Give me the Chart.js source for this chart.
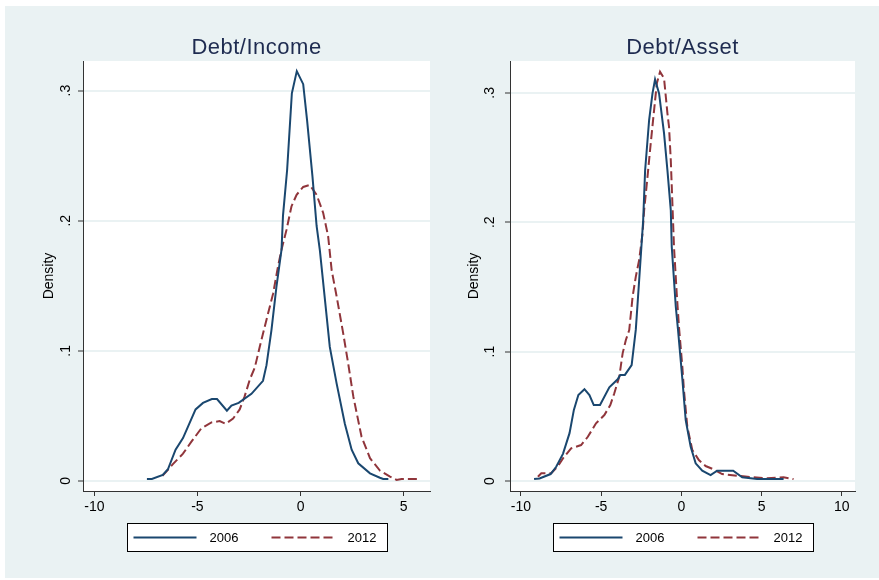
<!DOCTYPE html>
<html>
<head>
<meta charset="utf-8">
<script src="https://cdn.jsdelivr.net/npm/chart.js@4.4.1/dist/chart.umd.min.js"></script>
<style>
  html, body { margin: 0; padding: 0; background: #ffffff; }
  #frame { position: absolute; left: 5px; top: 6px; width: 874px; height: 572px; background: #eaf2f3; }
  #frame canvas { position: absolute; top: 0; }
  #incomeChart { left: 0; }
  #assetChart { left: 435px; }
</style>
</head>
<body>
<div id="frame">
  <canvas id="incomeChart" width="435" height="572"></canvas>
  <canvas id="assetChart" width="439" height="572"></canvas>
</div>
<script>
// --- values ---
const yearLabels = ['2006', '2012'];
const yTicks = [0, 0.1, 0.2, 0.3];
const yTickLabels = ['0', '.1', '.2', '.3'];
const xTicksIncome = [-10, -5, 0, 5];
const xTicksAsset = [-10, -5, 0, 5, 10];

// Debt/Income
const incomeX2006 = [-7.45, -7.21, -6.68, -6.43, -6.06, -5.70, -5.09, -4.73, -4.30, -4.05, -3.57, -3.35, -3.00, -2.38, -1.82, -1.65, -1.41, -1.17, -0.92, -0.85, -0.65, -0.42, -0.18, 0.13, 0.32, 0.58, 0.78, 0.94, 1.42, 1.75, 2.15, 2.48, 2.80, 3.37, 3.85, 4.01, 4.26];
const incomeY2006 = [0.0015, 0.0015, 0.0046, 0.009, 0.024, 0.033, 0.055, 0.060, 0.063, 0.063, 0.054, 0.058, 0.060, 0.067, 0.077, 0.089, 0.116, 0.149, 0.178, 0.204, 0.239, 0.298, 0.315, 0.305, 0.277, 0.234, 0.196, 0.177, 0.103, 0.075, 0.044, 0.024, 0.0136, 0.0059, 0.0025, 0.0015, 0.0015];
const incomeX2012 = [-6.70, -6.43, -6.19, -5.70, -5.30, -4.81, -4.32, -3.92, -3.63, -3.27, -2.95, -2.71, -2.46, -2.22, -1.98, -1.65, -1.33, -1.09, -0.92, -0.68, -0.44, -0.19, 0.13, 0.45, 0.78, 1.10, 1.34, 1.51, 1.75, 2.07, 2.31, 2.56, 2.96, 3.37, 3.85, 4.34, 4.66, 4.90, 5.72];
const incomeY2012 = [0.004, 0.0085, 0.013, 0.021, 0.030, 0.0405, 0.045, 0.046, 0.044, 0.048, 0.055, 0.065, 0.078, 0.087, 0.103, 0.124, 0.144, 0.165, 0.178, 0.193, 0.211, 0.220, 0.226, 0.2275, 0.220, 0.206, 0.188, 0.162, 0.142, 0.1135, 0.0905, 0.065, 0.034, 0.0175, 0.008, 0.0033, 0.0008, 0.0015, 0.0015];

// Debt/Asset
const assetX2006 = [-9.18, -8.84, -8.15, -7.80, -7.38, -6.97, -6.70, -6.42, -6.04, -5.73, -5.46, -5.07, -4.49, -3.97, -3.81, -3.52, -3.10, -2.84, -2.67, -2.38, -2.26, -2.01, -1.80, -1.64, -1.39, -1.08, -0.87, -0.66, -0.60, -0.35, -0.21, 0.06, 0.27, 0.58, 0.89, 1.30, 1.82, 2.23, 3.23, 3.79, 4.72, 6.37];
const assetY2006 = [0.0015, 0.002, 0.0054, 0.011, 0.021, 0.037, 0.055, 0.0665, 0.071, 0.0665, 0.0587, 0.0587, 0.0724, 0.0786, 0.082, 0.082, 0.0896, 0.117, 0.148, 0.2017, 0.240, 0.279, 0.2996, 0.3104, 0.2996, 0.2687, 0.2403, 0.2094, 0.181, 0.135, 0.117, 0.079, 0.047, 0.0265, 0.0137, 0.008, 0.0046, 0.008, 0.008, 0.0029, 0.0015, 0.0015];
const assetX2012 = [-8.94, -8.73, -8.11, -7.69, -7.38, -6.87, -6.25, -5.83, -5.32, -4.80, -4.43, -4.18, -3.87, -3.66, -3.46, -3.25, -3.04, -2.84, -2.63, -2.42, -2.32, -2.11, -1.91, -1.70, -1.53, -1.33, -1.08, -0.87, -0.77, -0.66, -0.56, -0.46, -0.29, -0.15, 0.06, 0.16, 0.37, 0.68, 1.09, 1.51, 2.02, 2.54, 3.47, 4.50, 5.34, 6.37, 6.99];
const assetY2012 = [0.0033, 0.006, 0.006, 0.0116, 0.0175, 0.0253, 0.0278, 0.0342, 0.0446, 0.051, 0.0587, 0.0678, 0.0806, 0.0987, 0.109, 0.1167, 0.1424, 0.158, 0.1708, 0.1914, 0.2094, 0.2352, 0.261, 0.2867, 0.3073, 0.3163, 0.3112, 0.2842, 0.2738, 0.248, 0.2146, 0.181, 0.145, 0.1192, 0.0883, 0.0703, 0.042, 0.024, 0.0162, 0.0116, 0.009, 0.0054, 0.0041, 0.0029, 0.0021, 0.0029, 0.0015];

const fontFamily = '"Liberation Sans", Arial, sans-serif';
const navy = '#1a476f';
const maroon = '#90353b';

Chart.defaults.font.family = fontFamily;

function toPoints(xs, ys) {
    return xs.map((x, i) => ({ x: x, y: ys[i] }));
}

// white plot region, panel title, rotated y labels and boxed legend
const panelPlugin = {
    id: 'panelDecor',
    beforeDraw(chart) {
        const { ctx, chartArea: a } = chart;
        ctx.save();
        ctx.fillStyle = '#ffffff';
        ctx.fillRect(a.left, a.top, a.right - a.left, a.bottom - a.top);
        ctx.restore();
    },
    afterDraw(chart, args, opts) {
        const { ctx, chartArea: a } = chart;
        const mid = (a.left + a.right) / 2;
        ctx.save();

        // title
        ctx.font = '22px ' + fontFamily;
        if ('letterSpacing' in ctx) ctx.letterSpacing = '0.5px';
        ctx.fillStyle = '#1e2b50';
        ctx.textAlign = 'center';
        ctx.textBaseline = 'alphabetic';
        ctx.fillText(opts.title, mid, 48);
        if ('letterSpacing' in ctx) ctx.letterSpacing = '0px';

        // y tick labels, turned like Stata's
        const yScale = chart.scales.y;
        ctx.font = '14px ' + fontFamily;
        ctx.fillStyle = '#000000';
        ctx.textBaseline = 'middle';
        yTicks.forEach((v, i) => {
            ctx.save();
            ctx.translate(opts.yLabelX, yScale.getPixelForValue(v));
            ctx.rotate(-Math.PI / 2);
            ctx.fillText(yTickLabels[i], 0, 0);
            ctx.restore();
        });

        // legend box
        const w = 260, h = 28, top = 517.5;
        const left = Math.round(mid - w / 2) + 0.5;
        ctx.fillStyle = '#ffffff';
        ctx.fillRect(left, top, w, h);
        ctx.strokeStyle = '#000000';
        ctx.lineWidth = 1;
        ctx.strokeRect(left, top, w, h);

        const cy = top + h / 2;
        const slots = [6, 144];
        chart.data.datasets.forEach((ds, i) => {
            const x0 = left + slots[i];
            ctx.beginPath();
            ctx.strokeStyle = ds.borderColor;
            ctx.lineWidth = ds.borderWidth;
            ctx.setLineDash(ds.borderDash || []);
            ctx.moveTo(x0, cy);
            ctx.lineTo(x0 + 63, cy);
            ctx.stroke();
            ctx.setLineDash([]);
            ctx.fillStyle = '#000000';
            ctx.textAlign = 'left';
            ctx.font = '13px ' + fontFamily;
            ctx.fillText(ds.label, x0 + 76, cy + 1);
        });
        ctx.restore();
    }
};

function makePanel(canvasId, panel) {
    return new Chart(document.getElementById(canvasId), {
        type: 'line',
        data: {
            datasets: [{
                label: yearLabels[0],
                data: toPoints(panel.x2006, panel.y2006),
                borderColor: navy,
                borderWidth: 2,
                pointRadius: 0,
                tension: 0,
                fill: false
            }, {
                label: yearLabels[1],
                data: toPoints(panel.x2012, panel.y2012),
                borderColor: maroon,
                borderWidth: 2,
                borderDash: [9, 4],
                pointRadius: 0,
                tension: 0,
                fill: false
            }]
        },
        options: {
            responsive: false,
            animation: false,
            devicePixelRatio: 1,
            layout: { padding: { top: 55, left: 0, right: panel.padRight, bottom: 57 } },
            scales: {
                x: {
                    type: 'linear',
                    min: panel.xMin,
                    max: panel.xMax,
                    afterBuildTicks: s => { s.ticks = panel.xTicks.map(v => ({ value: v })); },
                    afterFit: s => { s.height = 30; },
                    ticks: {
                        color: '#000000',
                        font: { size: 14 },
                        padding: 3,
                        maxRotation: 0,
                        callback: v => String(v)
                    },
                    grid: { drawOnChartArea: false, drawTicks: true, tickLength: 5, tickColor: '#333333', tickWidth: 1 },
                    border: { color: '#333333', width: 1 }
                },
                y: {
                    min: panel.yMin,
                    max: panel.yMax,
                    afterBuildTicks: s => { s.ticks = yTicks.map(v => ({ value: v })); },
                    afterFit: s => { s.width = panel.yAxisWidth; },
                    ticks: { color: 'rgba(0,0,0,0)', font: { size: 14 } },
                    grid: { color: '#eaf2f3', lineWidth: 2, drawTicks: true, tickLength: 5, tickColor: '#333333', tickWidth: 1 },
                    border: { color: '#333333', width: 1 },
                    title: {
                        display: true,
                        text: 'Density',
                        color: '#000000',
                        font: { size: 14 },
                        padding: { top: panel.densityPad, bottom: 0 }
                    }
                }
            },
            plugins: {
                legend: { display: false },
                tooltip: { enabled: false },
                panelDecor: { title: panel.title, yLabelX: panel.yLabelX }
            }
        },
        plugins: [panelPlugin]
    });
}

makePanel('incomeChart', {
    title: 'Debt/Income',
    x2006: incomeX2006, y2006: incomeY2006,
    x2012: incomeX2012, y2012: incomeY2012,
    xTicks: xTicksIncome,
    xMin: -10.55, xMax: 6.28,
    yMin: -0.0077, yMax: 0.3228,
    yAxisWidth: 78, padRight: 10,
    densityPad: 35.6, yLabelX: 61.5
});

makePanel('assetChart', {
    title: 'Debt/Asset',
    x2006: assetX2006, y2006: assetY2006,
    x2012: assetX2012, y2012: assetY2012,
    xTicks: xTicksAsset,
    xMin: -10.68, xMax: 10.82,
    yMin: -0.0077, yMax: 0.3246,
    yAxisWidth: 70, padRight: 24,
    densityPad: 25.6, yLabelX: 50
});
</script>
</body>
</html>
